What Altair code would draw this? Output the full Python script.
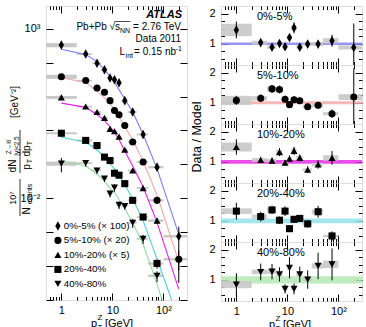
import altair as alt
import pandas as pd

# ---------------- data ----------------
CENTRALITY = ["0%-5%", "5%-10%", "10%-20%", "20%-40%", "40%-80%"]
LEGEND_TEXT = ["0%-5% (× 100)", "5%-10% (× 20)", "10%-20% (× 5)", "20%-40%", "40%-80%"]

# pT bins (GeV): lower edge, upper edge, plotted position
PT_LO = [0.5, 2, 4, 6, 8, 10, 12, 15, 20, 30, 50, 100]
PT_HI = [2, 4, 6, 8, 10, 12, 15, 20, 30, 50, 100, 300]
PT = [1, 3, 5, 7, 9, 11, 13.5, 17.5, 25, 40, 75, 200]

# scaled yields 10^7/N_events dN/(pT dpT)
YIELD_0_5 = [331, 180, 96, 62, 35.5, 31.6, 25.7, 7.6, 3.5, 0.76, 0.083, 7.6e-4]
YIELD_5_10 = [38.7, 29.7, 18, 13.4, 7.6, 3.9, 2.9, 1.4, 0.46, 0.117, 0.0087, 1.6e-4]
YIELD_10_20 = [9.5, 5.1, 3.5, 2.35, 1.12, 0.95, 0.66, 0.27, 0.066, 0.02, 2.2e-3]
YIELD_20_40 = [0.83, 0.51, 0.36, 0.164, 0.13, 0.055, 0.048, 0.027, 8.7e-3, 2.8e-3, 1.2e-4]
YIELD_40_80 = [0.106, 0.11, 0.066, 0.038, 0.0137, 0.0207, 0.0064, 0.0059, 0.0019, 6.4e-4, 5.2e-5]

# data / model
RATIO_0_5 = [1.46, 1.04, 0.89, 1.01, 0.9, 1.21, 1.53, 0.89, 0.99, 0.99, 1.1, 0.88]
RATIO_5_10 = [1.08, 1.15, 1.46, 1.44, 1.12, 0.94, 1.1, 1.07, 0.87, 0.92, 0.64, 1.19]
RATIO_10_20 = [1.49, 1.06, 1.04, 1.32, 0.97, 1.1, 1.36, 1.13, 0.74, 0.91, 1.13]
RATIO_20_40 = [1.32, 1.14, 1.36, 1.02, 1.32, 0.74, 1.05, 1.08, 0.9, 1.3, 0.5]
RATIO_40_80 = [0.84, 1.26, 1.27, 1.18, 0.7, 1.4, 0.7, 1.18, 1.01, 1.46, 1.51]

# relative statistical uncertainties
STAT_0_5 = [0.19, 0.09, 0.08, 0.09, 0.09, 0.1, 0.12, 0.09, 0.1, 0.1, 0.18, 0.9]
STAT_5_10 = [0.14, 0.11, 0.09, 0.09, 0.1, 0.12, 0.1, 0.1, 0.12, 0.12, 0.22, 0.8]
STAT_10_20 = [0.17, 0.1, 0.1, 0.1, 0.1, 0.1, 0.1, 0.1, 0.15, 0.15, 0.2]
STAT_20_40 = [0.21, 0.14, 0.1, 0.12, 0.12, 0.14, 0.1, 0.1, 0.14, 0.15, 0.3]
STAT_40_80 = [0.45, 0.22, 0.2, 0.2, 0.22, 0.25, 0.25, 0.22, 0.3, 0.3, 0.35]

# relative systematic uncertainties (grey boxes)
SYST_0_5 = [0.14, 0.06, 0.06, 0.06, 0.06, 0.06, 0.06, 0.06, 0.06, 0.06, 0.08, 0.08]
SYST_5_10 = [0.14, 0.06, 0.06, 0.06, 0.06, 0.06, 0.06, 0.06, 0.06, 0.06, 0.08, 0.08]
SYST_10_20 = [0.1, 0.06, 0.06, 0.06, 0.06, 0.06, 0.06, 0.06, 0.06, 0.06, 0.08]
SYST_20_40 = [0.07, 0.06, 0.06, 0.06, 0.06, 0.06, 0.06, 0.06, 0.06, 0.06, 0.08]
SYST_40_80 = [0.14, 0.06, 0.06, 0.06, 0.06, 0.06, 0.06, 0.06, 0.06, 0.06, 0.08]

# model curves (same scaling as the yields)
MODEL_PT = [1, 3, 5, 7, 9, 11, 13.5, 17.5, 25, 40, 75, 200]
MODEL_0_5 = [250, 173, 108, 62, 39, 26, 16, 8.5, 3.5, 0.77, 0.075, 8.6e-4]
MODEL_5_10 = [36, 26, 14.5, 9.3, 6.3, 4.1, 2.55, 1.3, 0.53, 0.124, 0.0125, 1.35e-4]
MODEL_10_20 = [6.4, 4.8, 2.95, 1.95, 1.29, 0.89, 0.54, 0.25, 0.089, 0.022, 1.95e-3, 2.1e-5]
MODEL_20_40 = [0.63, 0.45, 0.27, 0.165, 0.105, 0.074, 0.046, 0.025, 0.0097, 0.0022, 1.6e-4, 2.6e-6]
MODEL_40_80 = [0.126, 0.09, 0.052, 0.032, 0.0196, 0.0148, 0.0092, 0.005, 0.0019, 4.4e-4, 3e-5, 2.5e-7]

# half width of the model uncertainty band in the ratio panels
BAND_HALF = [0.04, 0.05, 0.06, 0.08, 0.12]

YIELDS = [YIELD_0_5, YIELD_5_10, YIELD_10_20, YIELD_20_40, YIELD_40_80]
RATIOS = [RATIO_0_5, RATIO_5_10, RATIO_10_20, RATIO_20_40, RATIO_40_80]
STATS = [STAT_0_5, STAT_5_10, STAT_10_20, STAT_20_40, STAT_40_80]
SYSTS = [SYST_0_5, SYST_5_10, SYST_10_20, SYST_20_40, SYST_40_80]
MODELS = [MODEL_0_5, MODEL_5_10, MODEL_10_20, MODEL_20_40, MODEL_40_80]

# ---------------- style ----------------
FONT = "Liberation Sans"
DIAMOND = "M0,-1.35L0.75,0L0,1.35L-0.75,0Z"
SHAPES = [DIAMOND, "circle", "triangle-up", "square", "triangle-down"]
MARK_SIZE = 50
LINE_COLORS = ["#7c7cf2", "#f2a8a8", "#e620e6", "#4fcfd0", "#8fdca0"]
BAND_COLORS = ["#8484f4", "#f4aaaa", "#e62ee6", "#94e2ea", "#b4e8b4"]
BOX_GREY = "#c8c8c8"

W_L, H_L = 141, 294
W_R, H_R = 141, 59
X_DOMAIN = [0.5, 290]
Y_DOMAIN = [1e-5, 4.7e3]
R_DOMAIN = [0.3, 2.25]

X_MAJOR = [1, 10, 100]
X_MINOR = [0.6, 0.7, 0.8, 0.9, 2, 3, 4, 5, 6, 7, 8, 9, 20, 30, 40, 50, 60, 70, 80, 90, 200]
Y_MAJOR = [1e-5, 1e-4, 1e-3, 1e-2, 1e-1, 1, 10, 100, 1000]
R_MAJOR = [1, 2]
R_MINOR = [0.5, 0.75, 1.25, 1.5, 1.75]

XS = alt.Scale(type="log", domain=X_DOMAIN, nice=False)
YS = alt.Scale(type="log", domain=Y_DOMAIN, nice=False)
RS = alt.Scale(type="linear", domain=R_DOMAIN, nice=False, zero=False)

# ---------------- tables ----------------
rows, model_rows = [], []
for i, cent in enumerate(CENTRALITY):
    for k, y in enumerate(YIELDS[i]):
        st, sy, r = STATS[i][k], SYSTS[i][k], RATIOS[i][k]
        rows.append(dict(cent=cent, leg=LEGEND_TEXT[i], pt=PT[k], lo=PT_LO[k], hi=PT_HI[k],
                         y=y, ylo=y * (1 - st), yhi=y * (1 + st),
                         sylo=y * (1 - sy), syhi=y * (1 + sy),
                         r=r, rlo=r * (1 - st), rhi=r * (1 + st),
                         rslo=r * (1 - sy), rshi=r * (1 + sy)))
    for k, m in enumerate(MODELS[i]):
        model_rows.append(dict(cent=cent, pt=MODEL_PT[k], m=m))
pts = pd.DataFrame(rows)
model = pd.DataFrame(model_rows)


def tick_axis(orient, offset, values, size):
    return alt.Axis(orient=orient, offset=offset, values=values, labels=False, domain=False,
                    grid=False, title=None, ticks=True, tickSize=size, tickColor="black",
                    tickWidth=1)


def label_axis(orient, values, expr, pad):
    return alt.Axis(orient=orient, values=values, labelExpr=expr, ticks=False, domain=False,
                    grid=False, title=None, labelFont=FONT, labelFontSize=11,
                    labelColor="black", labelPadding=pad)


def carriers(df, xf, yf, xs, ys, x_axes, y_axes):
    """Invisible layers that only hold the frame ticks and labels."""
    out = []
    for k in range(max(len(x_axes), len(y_axes))):
        out.append(alt.Chart(df).mark_point(opacity=0, clip=True).encode(
            x=alt.X(f"{xf}:Q", scale=xs, axis=x_axes[k] if k < len(x_axes) else None),
            y=alt.Y(f"{yf}:Q", scale=ys, axis=y_axes[k] if k < len(y_axes) else None)))
    return out


def text(t, x, y, size=10, angle=0, align="left", baseline="alphabetic",
         weight="normal", style="normal"):
    return alt.Chart(pd.DataFrame({"t": [t]})).mark_text(
        font=FONT, fontSize=size, angle=angle, align=align, baseline=baseline,
        fontWeight=weight, fontStyle=style, color="black").encode(
        text="t:N", x=alt.value(x), y=alt.value(y))


def vrule(x, y0, y1):
    return alt.Chart(pd.DataFrame({"a": [0]})).mark_rule(color="black", strokeWidth=0.8).encode(
        x=alt.value(x), y=alt.value(y0), y2=alt.value(y1))


def hrule(x0, x1, y):
    return alt.Chart(pd.DataFrame({"a": [0]})).mark_rule(color="black", strokeWidth=0.7).encode(
        x=alt.value(x0), x2=alt.value(x1), y=alt.value(y))


X_LABEL_EXPR = "datum.value == 100 ? '10²' : (datum.value == 10 ? '10' : '1')"

x_axes_full = [
    label_axis("bottom", X_MAJOR, X_LABEL_EXPR, 4),
    tick_axis("top", -H_L, X_MAJOR, 7),
    tick_axis("top", -H_L, X_MINOR, 3.5),
    tick_axis("bottom", -H_L, X_MAJOR, 7),
    tick_axis("bottom", -H_L, X_MINOR, 3.5),
]
y_axes_left = [
    label_axis("left", [1e3, 1e-2], "datum.value > 1 ? '10³' : '10⁻²'", 6),
    tick_axis("right", -W_L, Y_MAJOR, 7),
    tick_axis("left", -W_L, Y_MAJOR, 7),
]

# ---------------- spectra panel ----------------
boxes = alt.Chart(pts).mark_rect(color=BOX_GREY, clip=True).encode(
    x=alt.X("lo:Q", scale=XS, axis=None), x2="hi:Q",
    y=alt.Y("sylo:Q", scale=YS, axis=None), y2="syhi:Q")
lines = alt.Chart(model).mark_line(clip=True, strokeWidth=1.1).encode(
    x=alt.X("pt:Q", scale=XS, axis=None), y=alt.Y("m:Q", scale=YS, axis=None),
    color=alt.Color("cent:N", scale=alt.Scale(domain=CENTRALITY, range=LINE_COLORS), legend=None))
bars = alt.Chart(pts).mark_rule(clip=True, color="black", strokeWidth=1).encode(
    x=alt.X("pt:Q", scale=XS, axis=None),
    y=alt.Y("ylo:Q", scale=YS, axis=None), y2="yhi:Q")
points = alt.Chart(pts).mark_point(filled=True, opacity=1, color="black", clip=True,
                                   size=MARK_SIZE).encode(
    x=alt.X("pt:Q", scale=XS, axis=None), y=alt.Y("y:Q", scale=YS, axis=None),
    shape=alt.Shape("leg:N", scale=alt.Scale(domain=LEGEND_TEXT, range=SHAPES),
                    legend=alt.Legend(orient="none", legendX=7, legendY=215, title=None,
                                      labelFont=FONT, labelFontSize=9.8, labelColor="black",
                                      symbolFillColor="black", symbolStrokeColor="black",
                                      symbolStrokeWidth=0, symbolSize=MARK_SIZE,
                                      symbolOpacity=1, rowPadding=3.5, labelOffset=1,
                                      padding=0)))

annot = [
    text("ATLAS", 136, 12, size=11, align="right", weight="bold", style="italic"),
    text("= 2.76 TeV", 135, 24, align="right"),
    text("NN", 84, 26.5, size=7, align="right"),
    text("Pb+Pb  √s", 74, 24, align="right"),
    hrule(68.5, 84.5, 15.5),
    text("Data 2011", 135, 36, align="right"),
    text("-1", 136, 45, size=7, align="right"),
    text(" = 0.15 nb", 130, 49, align="right"),
    text("int", 87, 51.5, size=7, align="right"),
    text("L", 79, 49, align="right"),
    # y title
    text("10⁷", -33, 192, size=9, angle=270, align="center", baseline="middle"),
    vrule(-26, 173, 210),
    text("N", -19, 205, size=10, angle=270, align="center", baseline="middle"),
    text("events", -16.5, 188, size=7, angle=270, align="center", baseline="middle"),
    text("dN", -33, 160, size=10, angle=270, align="center", baseline="middle"),
    text("Z→ℓℓ", -37, 141, size=6.5, angle=270, align="center", baseline="middle"),
    text("|y|<2.5", -29.5, 140, size=6.5, angle=270, align="center", baseline="middle"),
    vrule(-26, 124, 167),
    text("p", -19, 161, size=10, angle=270, align="center", baseline="middle"),
    text("T", -16.5, 155, size=7, angle=270, align="center", baseline="middle"),
    text("dp", -19, 145, size=10, angle=270, align="center", baseline="middle"),
    text("T", -16.5, 137, size=7, angle=270, align="center", baseline="middle"),
    text("[GeV⁻²]", -31, 96, size=10, angle=270, align="center", baseline="middle"),
    # x title
    text("p", 45, 321, size=11),
    text("T", 51.5, 324, size=8),
    text("Z", 51.5, 314, size=8),
    text("[GeV]", 59, 321, size=11),
]

left = alt.layer(
    boxes, lines, bars, points,
    *carriers(pts, "pt", "y", XS, YS, x_axes_full, y_axes_left),
    *annot,
).resolve_axis(x="independent", y="independent").properties(width=W_L, height=H_L)

# ---------------- ratio panels ----------------
panels = []
for i, cent in enumerate(CENTRALITY):
    sub = pts[pts.cent == cent]
    band = pd.DataFrame({"x0": [X_DOMAIN[0]], "x1": [X_DOMAIN[1]],
                         "b0": [1 - BAND_HALF[i]], "b1": [1 + BAND_HALF[i]]})
    h = H_R
    x_axes = [
        tick_axis("top", -h, X_MAJOR, 7),
        tick_axis("top", -h, X_MINOR, 3.5),
        tick_axis("bottom", -h, X_MAJOR, 7),
        tick_axis("bottom", -h, X_MINOR, 3.5),
    ]
    if i == len(CENTRALITY) - 1:
        x_axes.insert(0, label_axis("bottom", X_MAJOR, X_LABEL_EXPR, 4))
    y_axes = [
        label_axis("left", R_MAJOR, "datum.label", 6),
        tick_axis("right", -W_R, R_MAJOR, 7),
        tick_axis("right", -W_R, R_MINOR, 3.5),
        tick_axis("left", -W_R, R_MAJOR, 7),
        tick_axis("left", -W_R, R_MINOR, 3.5),
    ]
    layers = [
        alt.Chart(band).mark_rect(color=BAND_COLORS[i], opacity=0.85, clip=True).encode(
            x=alt.X("x0:Q", scale=XS, axis=None), x2="x1:Q",
            y=alt.Y("b0:Q", scale=RS, axis=None), y2="b1:Q"),
        alt.Chart(sub).mark_rect(color=BOX_GREY, opacity=0.9, clip=True).encode(
            x=alt.X("lo:Q", scale=XS, axis=None), x2="hi:Q",
            y=alt.Y("rslo:Q", scale=RS, axis=None), y2="rshi:Q"),
        alt.Chart(sub).mark_rule(color="black", clip=True).encode(
            x=alt.X("pt:Q", scale=XS, axis=None),
            y=alt.Y("rlo:Q", scale=RS, axis=None), y2="rhi:Q"),
        alt.Chart(sub).mark_point(filled=True, opacity=1, color="black", clip=True,
                                  shape=SHAPES[i], size=MARK_SIZE).encode(
            x=alt.X("pt:Q", scale=XS, axis=None), y=alt.Y("r:Q", scale=RS, axis=None)),
        *carriers(sub, "pt", "r", XS, RS, x_axes, y_axes),
        text(cent, 36, 14, size=11),
    ]
    if i == 2:
        layers.append(text("Data / Model", -24, 13, size=12.5, angle=270,
                           align="center", baseline="middle"))
    if i == len(CENTRALITY) - 1:
        layers += [
            text("p", 48, 86, size=11),
            text("T", 54.5, 89, size=8),
            text("Z", 54.5, 79, size=8),
            text("[GeV]", 62, 86, size=11),
        ]
    panels.append(alt.layer(*layers).resolve_axis(x="independent", y="independent")
                  .properties(width=W_R, height=H_R))

right = alt.vconcat(*panels, spacing=0, bounds="flush")

chart = alt.hconcat(left, right, spacing=34, bounds="flush").resolve_legend(
    shape="independent"
).properties(
    padding={"left": 5, "top": 5, "right": 0, "bottom": 0}
).configure_view(stroke="black", strokeWidth=1).configure(background="white")

chart.save("out.html", embed_options={"renderer": "svg", "actions": False})
